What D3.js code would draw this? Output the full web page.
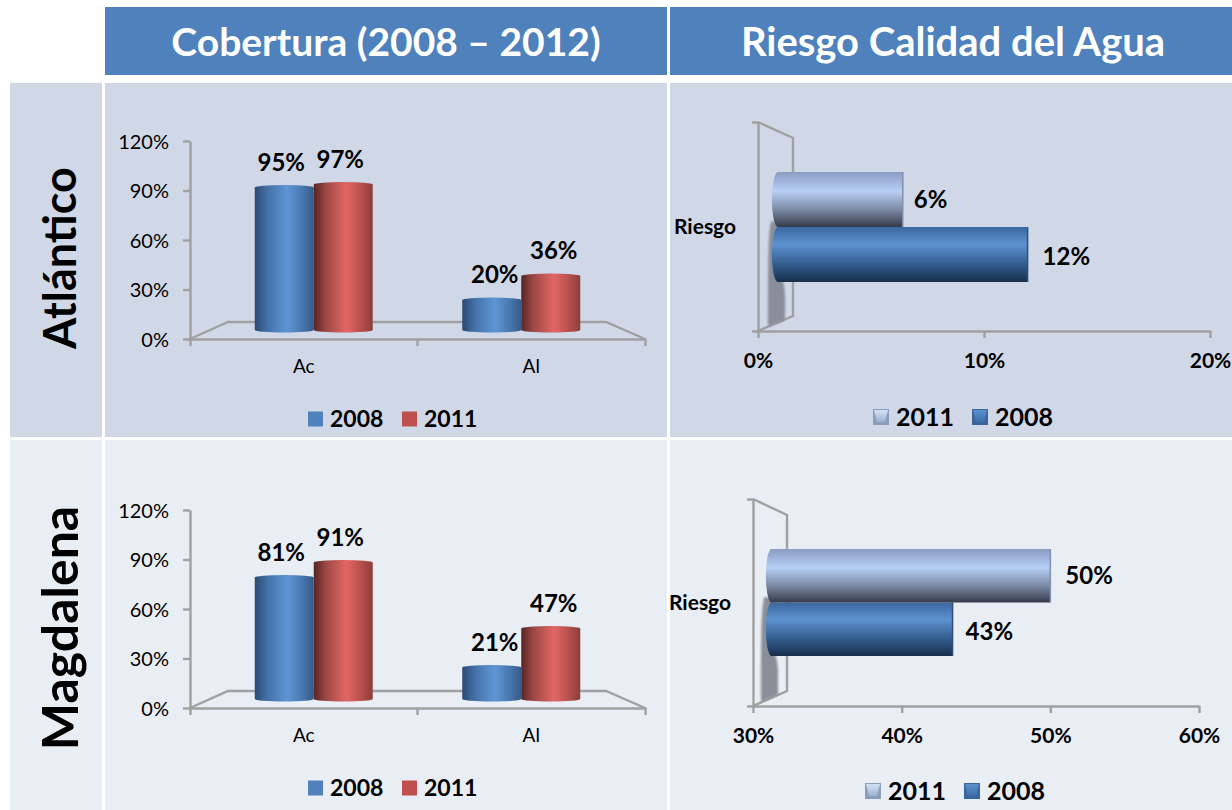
<!DOCTYPE html>
<html>
<head>
<meta charset="utf-8">
<script src="https://cdnjs.cloudflare.com/ajax/libs/d3/7.8.5/d3.min.js"></script>
<style>
  html, body { margin: 0; padding: 0; background: #fff; }
  svg { display: block; }
  text { font-family: Lato, "Open Sans", sans-serif; }
  .axis path, .axis line { stroke: #a0a0a0; stroke-width: 2.4; fill: none; }
</style>
</head>
<body>
<svg id="chart" width="1232" height="810"></svg>
<script>
var headers = ["Cobertura (2008 \u2013 2012)", "Riesgo Calidad del Agua"];
var regions = ["Atl\u00e1ntico", "Magdalena"];

var categories = ["Ac", "Al"];
var coverSeries = ["2008", "2011"];
var coverTicks = [0, 30, 60, 90, 120];
var atlanticoCover2008 = [95, 20];
var atlanticoCover2011 = [97, 36];
var magdalenaCover2008 = [81, 21];
var magdalenaCover2011 = [91, 47];

var riskCategory = "Riesgo";
var riskSeries = ["2011", "2008"];
var atlanticoRisk = [6, 12];
var atlanticoRiskTicks = [0, 10, 20];
var magdalenaRisk = [50, 43];
var magdalenaRiskTicks = [30, 40, 50, 60];

var svg = d3.select("#chart");
var defs = svg.append("defs");
var pct = function (d) { return d + "%"; };

function gradient(id, vertical, stops) {
  var g = defs.append("linearGradient").attr("id", id)
    .attr("x1", 0).attr("y1", 0)
    .attr("x2", vertical ? 0 : 1).attr("y2", vertical ? 1 : 0);
  stops.forEach(function (s) {
    g.append("stop").attr("offset", s[0]).attr("stop-color", s[1]);
  });
}
gradient("cylBlue", false, [[0, "#2a4a72"], [0.2, "#436fa5"], [0.55, "#5f95d6"], [0.8, "#4a78b0"], [1, "#355a87"]]);
gradient("cylRed", false, [[0, "#552624"], [0.2, "#9c4744"], [0.55, "#e26663"], [0.8, "#b9504d"], [1, "#8a3e3b"]]);
gradient("barLight", true, [[0, "#8a9dc2"], [0.35, "#b7cff6"], [0.7, "#78869f"], [1, "#343a4b"]]);
gradient("barDark", true, [[0, "#3a689f"], [0.32, "#5d91d0"], [0.7, "#30598a"], [1, "#192e4b"]]);
gradient("keyLight", true, [[0, "#d3e1f5"], [1, "#9fb2d2"]]);
gradient("keyDark", true, [[0, "#5a90d0"], [1, "#3f6ea6"]]);

var blur = defs.append("filter").attr("id", "soft")
  .attr("x", "-50%").attr("y", "-20%").attr("width", "200%").attr("height", "140%");
blur.append("feGaussianBlur").attr("stdDeviation", 1.2);

// table cells
function cell(x, y, w, h, color) {
  svg.append("rect").attr("x", x).attr("y", y).attr("width", w).attr("height", h).attr("fill", color);
}
cell(105, 7, 562, 68, "#4f81bd");
cell(670, 7, 562, 68, "#4f81bd");
cell(10, 83, 92, 354, "#d0d8e8");
cell(105, 83, 562, 354, "#d0d8e8");
cell(670, 83, 562, 354, "#d0d8e8");
cell(10, 440, 92, 370, "#e9edf4");
cell(105, 440, 562, 370, "#e9edf4");
cell(670, 440, 562, 370, "#e9edf4");

svg.selectAll(".head").data(headers).enter().append("text")
  .attr("class", "head")
  .attr("x", function (d, i) { return i === 0 ? 386 : 953; })
  .attr("y", 42)
  .attr("dy", "0.35em")
  .attr("text-anchor", "middle")
  .attr("fill", "#fff")
  .attr("font-weight", 700)
  .attr("font-size", function (d, i) { return i === 0 ? 39 : 40; })
  .text(function (d) { return d; });

svg.selectAll(".region").data(regions).enter().append("text")
  .attr("class", "region")
  .attr("transform", function (d, i) { return "translate(60," + (i === 0 ? 258 : 628) + ") rotate(-90)"; })
  .attr("dy", "0.35em")
  .attr("text-anchor", "middle")
  .attr("fill", "#000")
  .attr("font-weight", 700)
  .attr("font-size", function (d, i) { return i === 0 ? 45 : 50; })
  .text(function (d) { return d; });

function label(x, y, txt, size, weight, anchor) {
  return svg.append("text")
    .attr("x", x).attr("y", y).attr("dy", "0.35em")
    .attr("text-anchor", anchor || "middle")
    .attr("font-size", size)
    .attr("font-weight", weight)
    .attr("fill", "#000")
    .text(txt);
}

function coverChart(y0, s2008, s2011, legendY) {
  var yAxisScale = d3.scaleLinear().domain([0, 120]).range([y0, y0 - 198]);
  var xAxisScale = d3.scaleBand().domain(categories).range([190, 645]);
  // bars stand in the middle of the 3d floor so they use a shorter scale
  var barH = d3.scaleLinear().domain([0, 120]).range([0, 180]);
  var barX = d3.scaleBand().domain(categories).range([210, 625]);
  var serX = d3.scaleBand().domain(coverSeries).range([-59, 59]);
  var base = y0 - 9;
  var floorY = y0 - 17;

  svg.append("path")
    .attr("d", "M190," + y0 + "L228," + floorY + "H606L645," + y0)
    .attr("fill", "none").attr("stroke", "#a0a0a0").attr("stroke-width", 2.4);

  var ya = svg.append("g").attr("class", "axis").attr("transform", "translate(190,0)")
    .call(d3.axisLeft(yAxisScale).tickValues(coverTicks).tickFormat(pct).tickSize(7).tickSizeOuter(0));
  ya.selectAll("text").attr("font-size", 20).attr("fill", "#000").attr("x", -21).attr("dy", "0.35em");

  var xa = svg.append("g").attr("class", "axis").attr("transform", "translate(0," + y0 + ")")
    .call(d3.axisBottom(xAxisScale).tickSize(0).tickSizeOuter(7));
  xa.selectAll("text").attr("font-size", 19).attr("fill", "#000").attr("y", 27).attr("dy", "0.35em");
  xa.selectAll(".mid").data([1]).enter().append("line").attr("class", "mid")
    .attr("x1", xAxisScale("Al")).attr("x2", xAxisScale("Al")).attr("y1", 0).attr("y2", 7);

  [s2008, s2011].forEach(function (vals, si) {
    var name = coverSeries[si];
    vals.forEach(function (v, ci) {
      var cx = barX(categories[ci]) + barX.bandwidth() / 2;
      var xl = cx + serX(name);
      var w = serX.bandwidth();
      var top = base - barH(v);
      svg.append("path")
        .attr("d", "M" + xl + "," + top + "A" + (w / 2) + ",2.5 0 0 1 " + (xl + w) + "," + top +
          "V" + base + "A" + (w / 2) + ",2.5 0 0 1 " + xl + "," + base + "Z")
        .attr("fill", si === 0 ? "url(#cylBlue)" : "url(#cylRed)");
      label(xl + w / 2 + (ci === 0 ? -3 : 3), top - 25, pct(v), 24, 700);
    });
  });

  // legend
  var legendX = d3.scaleOrdinal().domain(coverSeries).range([308, 402]);
  var colors = d3.scaleOrdinal().domain(coverSeries).range(["#4f81bd", "#c0504d"]);
  coverSeries.forEach(function (s) {
    cell(legendX(s), legendY - 7.5, 15, 15, colors(s));
    label(legendX(s) + 22, legendY, s, 23, 700, "start");
  });
}

function riskChart(cfg) {
  var xAxisScale = d3.scaleLinear().domain(cfg.domain).range([cfg.axisX, cfg.axisEnd]);
  var barLen = d3.scaleLinear().domain(cfg.domain).range([cfg.barX, cfg.barEnd]);
  var yb = cfg.axisY;

  // wall
  svg.append("path")
    .attr("d", "M" + cfg.axisX + "," + cfg.topY + "L" + cfg.wallX + "," + (cfg.topY + 16) +
      "V" + (yb - 15) + "L" + cfg.axisX + "," + yb)
    .attr("fill", "none").attr("stroke", "#a0a0a0").attr("stroke-width", 2.4);

  // axis
  var xa = svg.append("g").attr("class", "axis").attr("transform", "translate(0," + yb + ")")
    .call(d3.axisBottom(xAxisScale).tickValues(cfg.ticks).tickFormat(pct).tickSize(7).tickSizeOuter(0));
  xa.selectAll("text").attr("font-size", 21).attr("font-weight", 700).attr("fill", "#000")
    .attr("y", 30).attr("dy", "0.35em");
  var ya = d3.scaleLinear().domain([0, 1]).range([yb, cfg.topY]);
  svg.append("g").attr("class", "axis").attr("transform", "translate(" + cfg.axisX + ",0)")
    .call(d3.axisLeft(ya).tickValues([0, 1]).tickFormat("").tickSize(6).tickSizeOuter(0));

  label(cfg.riesgoX, cfg.riesgoY, riskCategory, 21, 700, "start");

  // shadow on the wall
  var sx = cfg.barX - 10;
  var midY = cfg.barY + cfg.barH * 0.9;
  svg.append("path")
    .attr("d", "M" + (sx + 3) + "," + midY +
      "C" + sx + "," + (midY + 15) + " " + sx + "," + (midY + 40) + " " + sx + "," + (yb - 4) +
      "L" + (sx + 17) + "," + (yb - 11) +
      "V" + (midY + 75) +
      "C" + (sx + 17) + "," + (midY + 62) + " " + (sx + 14) + "," + (midY + 60) + " " + (sx + 13) + "," + (midY + 50) +
      "V" + midY + "Z")
    .attr("fill", "#8a8e98").attr("filter", "url(#soft)");

  // dark series goes first so the light one overlaps its top edge
  [1, 0].forEach(function (i) {
    var v = cfg.values[i];
    var y = cfg.barY + i * cfg.barH;
    var h = cfg.barH;
    var x1 = barLen(v);
    var x0 = barLen(cfg.domain[0]);
    svg.append("path")
      .attr("d", "M" + x0 + "," + y + "H" + x1 + "V" + (y + h) + "H" + x0 +
        "A6,27 0 0 1 " + x0 + "," + y + "Z")
      .attr("fill", i === 0 ? "url(#barLight)" : "url(#barDark)");
    svg.append("line")
      .attr("x1", x1).attr("x2", x1).attr("y1", y).attr("y2", y + h)
      .attr("stroke", i === 0 ? "#8090ae" : "#2c4f7c").attr("stroke-width", 1.5);
    label(x1 + cfg.labelDx[i], y + h / 2 + cfg.labelDy[i], pct(v), 24, 700, "start");
  });

  // legend
  var lx = d3.scaleOrdinal().domain(riskSeries).range(cfg.legendX);
  riskSeries.forEach(function (s, i) {
    var x = lx(s);
    var y = cfg.legendY - 8;
    svg.append("rect").attr("x", x).attr("y", y).attr("width", 16).attr("height", 16)
      .attr("fill", i === 0 ? "#8a9dbd" : "#3b669c");
    svg.append("path")
      .attr("d", "M" + (x + 1) + "," + (y + 1) + "H" + (x + 15) + "L" + (x + 12) + "," + (y + 13) + "H" + (x + 4) + "Z")
      .attr("fill", i === 0 ? "url(#keyLight)" : "url(#keyDark)");
    label(x + 23, cfg.legendY, s, 25, 700, "start");
  });
}

coverChart(339, atlanticoCover2008, atlanticoCover2011, 419);
coverChart(708, magdalenaCover2008, magdalenaCover2011, 788);

riskChart({
  domain: [0, 20], ticks: atlanticoRiskTicks, values: atlanticoRisk,
  axisX: 758, axisEnd: 1210, axisY: 331, topY: 122, wallX: 793,
  barX: 778, barEnd: 1194, barY: 172, barH: 55,
  labelDx: [11, 15], labelDy: [0, 2],
  riesgoX: 674, riesgoY: 227, legendX: [873, 972], legendY: 417
});
riskChart({
  domain: [30, 60], ticks: magdalenaRiskTicks, values: magdalenaRisk,
  axisX: 753, axisEnd: 1199, axisY: 706, topY: 499, wallX: 787,
  barX: 771, barEnd: 1190, barY: 549, barH: 53.5,
  labelDx: [15, 13], labelDy: [0, 2],
  riesgoX: 669, riesgoY: 603, legendX: [865, 964], legendY: 791
});
</script>
</body>
</html>
